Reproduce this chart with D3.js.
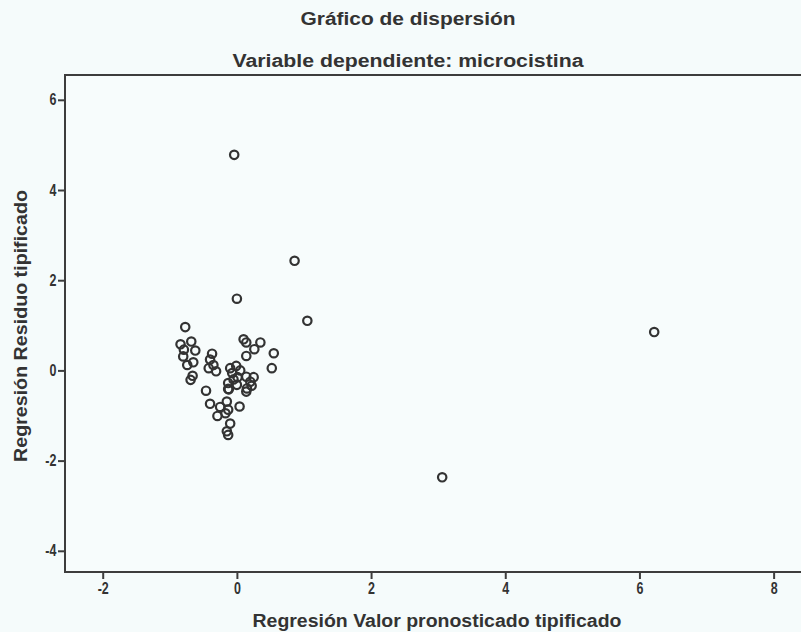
<!DOCTYPE html>
<html>
<head>
<meta charset="utf-8">
<script src="https://cdn.jsdelivr.net/npm/d3@7"></script>
<style>
  html, body { margin: 0; padding: 0; background: #f5fbfb; }
  svg { display: block; }
  text { font-family: "Liberation Sans", Arial, sans-serif; fill: #333; }
</style>
</head>
<body>
<script>
// Standardized predicted values (x) and standardized residuals (y)
const predicted = [
  -0.04, 0.86, 0.00, 1.05, 6.22, 3.06,
  -0.77, -0.84, -0.68, -0.79, -0.62, -0.80, -0.65, -0.66, -0.69, -0.74,
  -0.37, -0.40, -0.35, -0.42, -0.31, -0.46, -0.40, -0.25, -0.29, -0.15,
  -0.13, 0.04, -0.10, -0.15, -0.13, -0.10, -0.01, 0.05, -0.07, 0.01,
  -0.13, 0.00, 0.14, 0.20, 0.25, 0.14, 0.22, -0.13, 0.10, 0.14,
  0.35, 0.26, 0.14, 0.55, 0.52, -0.05, 0.15, -0.12, -0.17
];
const residual = [
  4.78, 2.43, 1.59, 1.10, 0.85, -2.37,
  0.96, 0.58, 0.64, 0.46, 0.44, 0.31, 0.18, -0.12, -0.21, 0.12,
  0.37, 0.24, 0.12, 0.05, -0.02, -0.45, -0.74, -0.81, -1.01, -0.69,
  -0.87, -0.80, -1.18, -1.35, -1.43, 0.05, 0.10, 0.00, -0.06, -0.15,
  -0.28, -0.32, -0.14, -0.25, -0.15, -0.47, -0.34, -0.41, 0.69, 0.62,
  0.62, 0.47, 0.32, 0.38, 0.05, -0.20, -0.40, -0.42, -0.95
];
const xTicks = [-2, 0, 2, 4, 6, 8];
const yTicks = [-4, -2, 0, 2, 4, 6];

const titleText = "Gráfico de dispersión";
const subtitleText = "Variable dependiente: microcistina";
const xLabel = "Regresión Valor pronosticado tipificado";
const yLabel = "Regresión Residuo tipificado";

const W = 801, H = 632;
const frame = { left: 65, top: 75, right: 802, bottom: 572 };

const svg = d3.select("body").append("svg").attr("width", W).attr("height", H);

svg.append("rect").attr("width", W).attr("height", H).attr("fill", "#f5fbfb");

const x = d3.scaleLinear().domain([-2.562, 8.423]).range([frame.left, frame.right]);
const y = d3.scaleLinear().domain([-4.47, 6.55]).range([frame.bottom, frame.top]);

// Plot frame
svg.append("rect")
  .attr("x", frame.left).attr("y", frame.top)
  .attr("width", frame.right - frame.left).attr("height", frame.bottom - frame.top)
  .attr("fill", "#f7fcfc").attr("stroke", "#3d3d3d").attr("stroke-width", 2);

// Axes (plain hyphen for negatives, condensed bold digits)
const fmt = d => String(d);
const xAxis = svg.append("g")
  .attr("transform", `translate(0,${frame.bottom})`)
  .call(d3.axisBottom(x).tickValues(xTicks).tickSize(7).tickPadding(4).tickFormat(fmt));
const yAxis = svg.append("g")
  .attr("transform", `translate(${frame.left},0)`)
  .call(d3.axisLeft(y).tickValues(yTicks).tickSize(7).tickPadding(4).tickFormat(fmt));

[xAxis, yAxis].forEach(g => {
  g.attr("font-size", 16).attr("font-family", "'Liberation Sans', Arial, sans-serif");
  g.select(".domain").remove();
  g.selectAll(".tick line").attr("stroke", "#3d3d3d").attr("stroke-width", 2);
  g.selectAll(".tick text")
    .attr("fill", "#333")
    .attr("font-size", 16)
    .attr("font-weight", "bold")
    .attr("transform", "scale(0.78,1)");
});

// Points
svg.append("g").selectAll("circle")
  .data(predicted.map((p, i) => [p, residual[i]]))
  .join("circle")
  .attr("cx", d => x(d[0]))
  .attr("cy", d => y(d[1]))
  .attr("r", 4.2)
  .attr("fill", "none")
  .attr("stroke", "#333")
  .attr("stroke-width", 2.2);

// Titles
function label(tx, ty, str, len, rotate) {
  const t = svg.append("text")
    .attr("text-anchor", "middle")
    .attr("textLength", len).attr("lengthAdjust", "spacingAndGlyphs")
    .style("font-size", "18px").style("font-weight", "bold").text(str);
  if (rotate) t.attr("transform", `translate(${tx},${ty}) rotate(-90)`);
  else t.attr("x", tx).attr("y", ty);
}
label(408, 25, titleText, 215);
label(408, 67, subtitleText, 351);
label(437, 627, xLabel, 369);
label(27, 326, yLabel, 272, true);
</script>
</body>
</html>
